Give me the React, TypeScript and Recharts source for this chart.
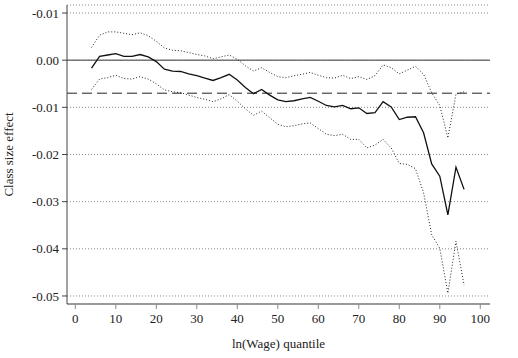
import React from "react";
import { LineChart, Line, XAxis, YAxis, CartesianGrid, ReferenceLine } from "recharts";

const quantiles = [4, 6, 8, 10, 12, 14, 16, 18, 20, 22, 24, 26, 28, 30, 32, 34, 36, 38, 40, 42, 44, 46, 48, 50, 52, 54, 56, 58, 60, 62, 64, 66, 68, 70, 72, 74, 76, 78, 80, 82, 84, 86, 88, 90, 92, 94, 96];

const effect = [-0.0017, 0.0008, 0.0011, 0.0014, 0.0008, 0.0008, 0.0012, 0.0007, -0.0003, -0.0019, -0.0023, -0.0024, -0.0029, -0.0033, -0.0038, -0.0043, -0.0037, -0.003, -0.0042, -0.0058, -0.0071, -0.0062, -0.0074, -0.0084, -0.0088, -0.0086, -0.0082, -0.0079, -0.0087, -0.0096, -0.0099, -0.0096, -0.0103, -0.0101, -0.0113, -0.0111, -0.0088, -0.0099, -0.0126, -0.0121, -0.012, -0.0154, -0.022, -0.0246, -0.0328, -0.0227, -0.0274];

const upper = [0.0027, 0.0053, 0.006, 0.006, 0.0057, 0.0054, 0.0058, 0.0052, 0.004, 0.0026, 0.0021, 0.002, 0.0016, 0.0012, 0.0009, 0.0003, 0.0007, 0.0011, 0.0002, -0.0012, -0.0023, -0.0016, -0.0026, -0.0035, -0.0037, -0.0033, -0.003, -0.0026, -0.0032, -0.0037, -0.0038, -0.0032, -0.0039, -0.0035, -0.0041, -0.0033, -0.001, -0.0016, -0.0029, -0.0021, -0.0013, -0.003, -0.0069, -0.0096, -0.0165, -0.0072, -0.0067];

const lower = [-0.0062, -0.004, -0.0037, -0.0032, -0.0039, -0.004, -0.0035, -0.004, -0.005, -0.0063, -0.0067, -0.0069, -0.0074, -0.0079, -0.0083, -0.0088, -0.0082, -0.0073, -0.0087, -0.0103, -0.0117, -0.0108, -0.0122, -0.0136, -0.0141, -0.0139, -0.0135, -0.0133, -0.0145, -0.0157, -0.016, -0.0157, -0.0168, -0.0168, -0.0186, -0.018, -0.0168, -0.0186, -0.0219, -0.0221, -0.023, -0.0281, -0.037, -0.0399, -0.0494, -0.0384, -0.0477];

const yTicks = [-0.05, -0.04, -0.03, -0.02, -0.01, 0, 0.01];
const yTickLabels = ["-0.05", "-0.04", "-0.03", "-0.02", "-0.01", "0.00", "-0.01"];
const xTicks = [0, 10, 20, 30, 40, 50, 60, 70, 80, 90, 100];
const meanEffect = -0.007;

const data = quantiles.map((q, i) => ({ q, effect: effect[i], upper: upper[i], lower: lower[i] }));

const font = "Liberation Serif";

export default function App() {
  return (
    <div style={{ position: "absolute", left: 0, top: 0, width: 518, height: 358, background: "#fff", fontFamily: font }}>
      <LineChart width={518} height={358} data={data} margin={{ top: 5, right: 28, left: 0, bottom: 0 }} style={{ fontFamily: font }}>
        <CartesianGrid horizontal vertical={false} stroke="#8a8a8a" strokeDasharray="1 2" />
        <XAxis
          dataKey="q"
          type="number"
          domain={[-2.05, 102.4]}
          allowDataOverflow
          ticks={xTicks}
          height={54}
          tickSize={5}
          tickMargin={5}
          axisLine={{ stroke: "#9a9a9a", strokeWidth: 2 }}
          tickLine={{ stroke: "#8a8a8a" }}
          tick={{ fill: "#222", fontSize: 13, fontFamily: font, style: { fontFamily: font } }}
          label={{ value: "ln(Wage) quantile", position: "insideBottom", offset: 10, style: { fill: "#222", fontSize: 13, fontFamily: font } }}
        />
        <YAxis
          type="number"
          domain={[-0.0517, 0.0117]}
          allowDataOverflow
          ticks={yTicks}
          width={67}
          tickSize={5}
          tickMargin={3}
          tickFormatter={(v: number) => yTickLabels[yTicks.findIndex((t) => Math.abs(t - v) < 1e-9)] ?? String(v)}
          axisLine={{ stroke: "#444" }}
          tickLine={{ stroke: "#444" }}
          tick={{ fill: "#222", fontSize: 13, fontFamily: font, style: { fontFamily: font } }}
          label={{ value: "Class size effect", angle: -90, position: "insideLeft", offset: 8, style: { textAnchor: "middle", fill: "#222", fontSize: 13, fontFamily: font } }}
        />
        <ReferenceLine y={0} stroke="#777" strokeWidth={1.5} />
        <ReferenceLine y={meanEffect} stroke="#222" strokeDasharray="10 5" />
        <Line dataKey="upper" stroke="#222" strokeWidth={1} strokeDasharray="1 2" dot={false} isAnimationActive={false} />
        <Line dataKey="lower" stroke="#222" strokeWidth={1} strokeDasharray="1 2" dot={false} isAnimationActive={false} />
        <Line dataKey="effect" stroke="#111" strokeWidth={1.3} dot={false} isAnimationActive={false} />
      </LineChart>
    </div>
  );
}
